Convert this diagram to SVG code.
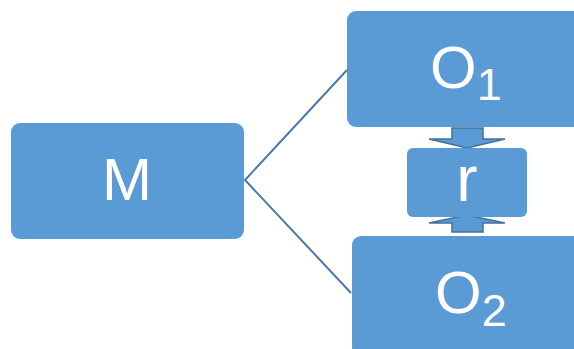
<svg xmlns="http://www.w3.org/2000/svg" width="574" height="349" viewBox="0 0 574 349">
  <style>
    .box { fill: #5b9bd5; }
    .lbl { fill: #ffffff; font-family: "Liberation Sans", Arial, sans-serif; font-size: 60px; }
    .sub { font-size: 45px; }
    .link { stroke: #4a78a8; stroke-width: 2; fill: none; }
    .arrow { fill: #5b9bd5; stroke: #41719c; stroke-width: 1.5; stroke-linejoin: miter; }
  </style>
  <rect width="574" height="349" fill="#ffffff"/>

  <g id="connectors">
    <polyline class="link" points="347,70 245,180 351,293"/>
    <!-- block arrow O1 -> r -->
    <polygon class="arrow" points="452,128 483,128 483,139 505,139 467,148 429,139 452,139"/>
    <!-- block arrow O2 -> r -->
    <polygon class="arrow" points="452,232 483,232 483,223 505,223 467,215 429,223 452,223"/>
  </g>

  <g id="node-M">
    <rect class="box" x="11" y="123" width="233" height="116" rx="9"/>
    <text class="lbl" x="127" y="200" text-anchor="middle">M</text>
  </g>

  <g id="node-O1">
    <rect class="box" x="347" y="11" width="240" height="116" rx="9"/>
    <text class="lbl" x="430" y="88">O<tspan class="sub" dy="12">1</tspan></text>
  </g>

  <g id="node-r">
    <rect class="box" x="407" y="148" width="120" height="69" rx="6"/>
    <text class="lbl" x="467" y="201" text-anchor="middle" font-size="64" style="font-size:64px">r</text>
  </g>

  <g id="node-O2">
    <rect class="box" x="352" y="236" width="240" height="120" rx="9"/>
    <text class="lbl" x="435" y="313">O<tspan class="sub" dy="13">2</tspan></text>
  </g>
</svg>
